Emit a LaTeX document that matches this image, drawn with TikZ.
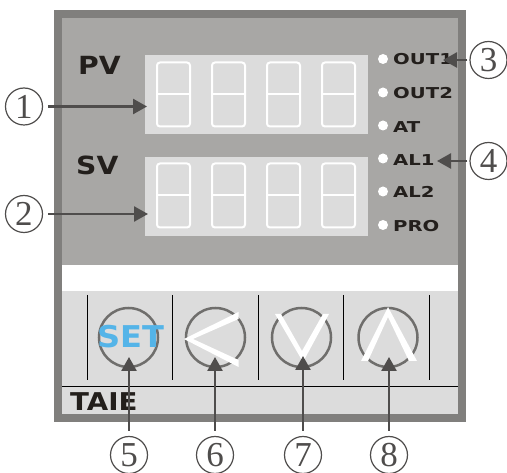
\documentclass[tikz,border=0pt]{standalone}
\usepackage{fontspec}
\usetikzlibrary{arrows.meta}
\newfontfamily\panelfont[FakeStretch=1.13]{DejaVu Sans}
\newfontfamily\ledfont[FakeStretch=1.31]{DejaVu Sans}
\newfontfamily\setfont[FakeStretch=1.07]{DejaVu Sans}
\newfontfamily\numfont{Liberation Serif}
\definecolor{casegray}{HTML}{807F7D}
\definecolor{panelgray}{HTML}{A8A7A5}
\definecolor{lightpanel}{HTML}{DCDCDC}
\definecolor{ringgray}{HTML}{6F6E6C}
\definecolor{arrowgray}{HTML}{4F4D4C}
\definecolor{inkblack}{HTML}{231F1C}
\definecolor{setblue}{HTML}{54B4E8}
\tikzset{
	panellabel/.style={anchor=west,inner sep=0pt,text=inkblack,font=\panelfont\bfseries\fontsize{25}{25}\selectfont},
	ledlabel/.style={anchor=west,inner sep=0pt,text=inkblack,font=\ledfont\bfseries\fontsize{15}{16}\selectfont},
	led/.style={circle,fill=white,inner sep=0pt,minimum size=10pt},
	callnum/.style={circle,draw=arrowgray,line width=1.2pt,text=arrowgray,inner sep=0pt,minimum size=37pt,font=\numfont\fontsize{35}{35}\selectfont},
	callout/.style={draw=arrowgray,line width=2.5pt,-{Triangle[length=14pt,width=15pt]},shorten <=5pt},
	keyring/.style={circle,draw=ringgray,line width=2.5pt,inner sep=0pt,minimum size=59pt},
	segline/.style={draw=white,line width=2pt,rounded corners=3pt}
}
\begin{document}
\begin{tikzpicture}[x=1pt,y=-1pt]
	\useasboundingbox (0,0) rectangle (507,473);
	
	%case and panels
	\fill[casegray] (54,10) rectangle (466,422);
	\fill[panelgray] (62,18) rectangle (458,265);
	\fill[white] (62,265) rectangle (458,291);
	\fill[lightpanel] (62,291) rectangle (458,414);
	\fill[lightpanel] (145,55) rectangle (368,134);
	\fill[lightpanel] (145,157) rectangle (368,236);
	
	%digits
	\foreach \y in {62.5,163.5}{
		\foreach \x in {157,212,267,322}{
			\draw[segline] (\x,\y) rectangle (\x+33,\y+64);
			\draw[draw=white,line width=2pt] (\x,\y+32) -- (\x+33,\y+32);
		}
	}
	
	\node[panellabel] (PV) at (78,65) {PV};
	\node[panellabel] (SV) at (76,165) {SV};
	
	%leds
	\node[led] (L1) at (383,59) {};
	\node[led] (L2) at (383,92.5) {};
	\node[led] (L3) at (383,125.5) {};
	\node[led] (L4) at (383,158.5) {};
	\node[led] (L5) at (383,191.5) {};
	\node[led] (L6) at (383,225) {};
	
	\node[ledlabel] (OUTA) at (393,59) {OUT1};
	\node[ledlabel] (OUTB) at (393,93) {OUT2};
	\node[ledlabel] (AT) at (393,127) {AT};
	\node[ledlabel] (ALA) at (393,160) {AL1};
	\node[ledlabel] (ALB) at (393,192) {AL2};
	\node[ledlabel] (PRO) at (393,226) {PRO};
	
	%keys
	\foreach \x in {87,172.5,258.5,343.5,429.5}
		\draw[black,line width=0.8pt] (\x,295) -- (\x,380);
	\draw[black,line width=0.8pt] (62,386.5) -- (458,386.5);
	
	\node[keyring] (KA) at (128.5,337.5) {};
	\node[keyring] (KB) at (215.5,337.5) {};
	\node[keyring] (KC) at (301.5,337.5) {};
	\node[keyring] (KD) at (388,337.5) {};
	
	\fill[white] (238.5,312) -- (184,339) -- (238.5,367) -- (238.5,360) -- (193,339) -- (238.5,319) -- cycle;
	\fill[white] (275,314) -- (281,314) -- (302,351) -- (323,314) -- (329,314) -- (303,362) -- cycle;
	\fill[white] (361,361) -- (368,361) -- (388,317) -- (409,361) -- (417,361) -- (388,307) -- cycle;
	
	\node[inner sep=0pt,text=setblue,font=\setfont\bfseries\fontsize{30}{30}\selectfont] (SET) at (130.5,337) {SET};
	\node[panellabel,font=\panelfont\bfseries\fontsize{24.5}{25}\selectfont] (TAIE) at (70,401.5) {TAIE};
	
	%callouts
	\node[callnum] (N1) at (24,106.5) {1};
	\node[callnum] (N2) at (24,214) {2};
	\node[callnum] (N3) at (488.5,60) {3};
	\node[callnum] (N4) at (488.5,161) {4};
	\node[callnum] (N5) at (129,455) {5};
	\node[callnum] (N6) at (215,455) {6};
	\node[callnum] (N7) at (303,455) {7};
	\node[callnum] (N8) at (389,455) {8};
	
	\coordinate (T1) at (147,106.5);
	\coordinate (T2) at (148,214);
	\coordinate (T3) at (443,60);
	\coordinate (T4) at (437,161);
	\coordinate (T5) at (129,357);
	\coordinate (T6) at (215,357);
	\coordinate (T7) at (303,356);
	\coordinate (T8) at (389,357);
	
	\draw[callout] (N1) -- (T1);
	\draw[callout] (N2) -- (T2);
	\draw[callout,shorten <=2pt] (N3) -- (T3);
	\draw[callout,shorten <=2pt] (N4) -- (T4);
	\draw[callout] (N5) -- (T5);
	\draw[callout] (N6) -- (T6);
	\draw[callout] (N7) -- (T7);
	\draw[callout] (N8) -- (T8);
\end{tikzpicture}
\end{document}
